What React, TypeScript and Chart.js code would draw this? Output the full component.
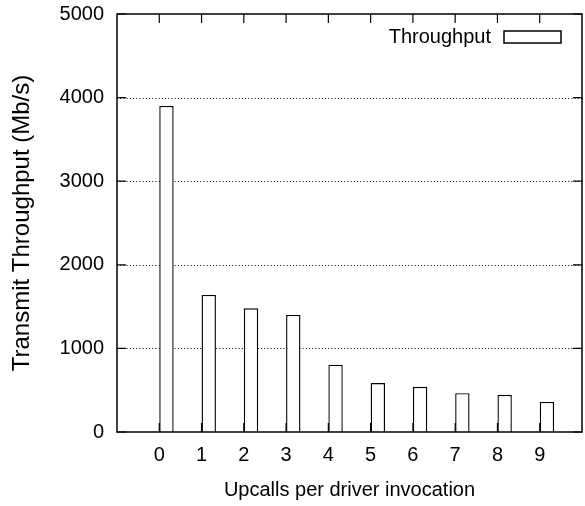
import React, { useEffect, useRef } from "react";
import { Chart, registerables } from "chart.js";

Chart.register(...registerables);

const categories = [0, 1, 2, 3, 4, 5, 6, 7, 8, 9];
const throughput = [3900, 1640, 1480, 1400, 805, 585, 540, 465, 445, 360];
const yTicks = [0, 1000, 2000, 3000, 4000, 5000];
const seriesLabel = "Throughput";
const xTitle = "Upcalls per driver invocation";
const yTitle = "Transmit Throughput (Mb/s)";

const FONT = '"Liberation Sans", Arial, Helvetica, sans-serif';
const BAR_FRACTION = 0.34;
const BAR_SHIFT = BAR_FRACTION / 2;
const TICK_LEN = 9;

const framePlugin = {
  id: "gnuFrame",
  beforeDatasetsDraw(chart: any) {
    const { ctx, chartArea } = chart;
    const y = chart.scales.y;
    ctx.save();
    ctx.strokeStyle = "#000";
    ctx.lineWidth = 1;
    ctx.setLineDash([1, 2.2]);
    yTicks.forEach((v) => {
      if (v <= yTicks[0] || v >= yTicks[yTicks.length - 1]) return;
      const py = Math.round(y.getPixelForValue(v)) + 0.5;
      ctx.beginPath();
      ctx.moveTo(chartArea.left, py);
      ctx.lineTo(chartArea.right, py);
      ctx.stroke();
    });
    ctx.restore();
  },
  afterDatasetsDraw(chart: any) {
    const { ctx, chartArea } = chart;
    const x = chart.scales.x;
    const y = chart.scales.y;
    ctx.save();
    ctx.strokeStyle = "#000";
    ctx.lineWidth = 1.5;
    ctx.setLineDash([]);
    ctx.strokeRect(
      chartArea.left,
      chartArea.top,
      chartArea.right - chartArea.left,
      chartArea.bottom - chartArea.top
    );
    ctx.lineWidth = 1.2;
    ctx.beginPath();
    yTicks.forEach((v) => {
      const py = y.getPixelForValue(v);
      ctx.moveTo(chartArea.left, py);
      ctx.lineTo(chartArea.left + TICK_LEN, py);
      ctx.moveTo(chartArea.right, py);
      ctx.lineTo(chartArea.right - TICK_LEN, py);
    });
    categories.forEach((c) => {
      const px = x.getPixelForValue(c);
      ctx.moveTo(px, chartArea.top);
      ctx.lineTo(px, chartArea.top + TICK_LEN);
      ctx.moveTo(px, chartArea.bottom);
      ctx.lineTo(px, chartArea.bottom - TICK_LEN);
    });
    ctx.stroke();
    ctx.restore();
  },
  afterDraw(chart: any) {
    const { ctx, chartArea } = chart;
    ctx.save();
    ctx.font = `20px ${FONT}`;
    ctx.fillStyle = "#000";
    ctx.textAlign = "right";
    ctx.textBaseline = "middle";
    const cy = chartArea.top + 23;
    ctx.fillText(seriesLabel, chartArea.right - 91, cy);
    ctx.strokeStyle = "#000";
    ctx.lineWidth = 1.5;
    ctx.strokeRect(chartArea.right - 78, cy - 6, 57, 12);
    ctx.restore();
  },
};

export default function App() {
  const ref = useRef<HTMLCanvasElement | null>(null);
  useEffect(() => {
    document.body.style.margin = "0";
    const canvas = ref.current;
    if (!canvas) return;
    const chart = new Chart(canvas, {
      type: "bar",
      data: {
        datasets: [
          {
            label: seriesLabel,
            data: categories.map((c, i) => ({ x: c + BAR_SHIFT, y: throughput[i] })),
            backgroundColor: "#ffffff",
            borderColor: "#000000",
            borderWidth: 1.4,
            barPercentage: BAR_FRACTION,
            categoryPercentage: 1,
          } as any,
        ],
      },
      options: {
        animation: false,
        responsive: false,
        maintainAspectRatio: false,
        layout: { padding: { top: 14, right: 3, left: 0, bottom: 0 } },
        plugins: {
          legend: { display: false },
          tooltip: { enabled: false },
        },
        scales: {
          x: {
            type: "linear",
            min: -1,
            max: 10,
            offset: false,
            grid: { display: false, drawTicks: false },
            border: { display: false },
            afterBuildTicks: (scale: any) => {
              scale.ticks = categories.map((c) => ({ value: c }));
            },
            afterFit: (scale: any) => {
              scale.height = 74;
              scale.paddingLeft = 0;
              scale.paddingRight = 0;
            },
            ticks: {
              autoSkip: false,
              maxRotation: 0,
              padding: 11,
              color: "#000",
              font: { family: FONT, size: 20 },
              callback: (v: any) => String(v),
            },
            title: {
              display: true,
              text: xTitle,
              color: "#000",
              font: { family: FONT, size: 20 },
              padding: { top: 0, bottom: 4 },
            },
          },
          y: {
            type: "linear",
            min: 0,
            max: 5000,
            grid: { display: false, drawTicks: false },
            border: { display: false },
            afterBuildTicks: (scale: any) => {
              scale.ticks = yTicks.map((v) => ({ value: v }));
            },
            afterFit: (scale: any) => {
              scale.width = 117;
              scale.paddingTop = 0;
              scale.paddingBottom = 0;
            },
            ticks: {
              padding: 13,
              color: "#000",
              font: { family: FONT, size: 20 },
              callback: (v: any) => String(v),
            },
            title: {
              display: true,
              text: yTitle,
              color: "#000",
              font: { family: FONT, size: 24 },
              padding: { top: 8, bottom: 0 },
            },
          },
        },
      },
      plugins: [framePlugin],
    });
    return () => chart.destroy();
  }, []);
  return (
    <div style={{ width: 585, height: 506, background: "#fff" }}>
      <canvas ref={ref} width={585} height={506} style={{ display: "block" }} />
    </div>
  );
}
